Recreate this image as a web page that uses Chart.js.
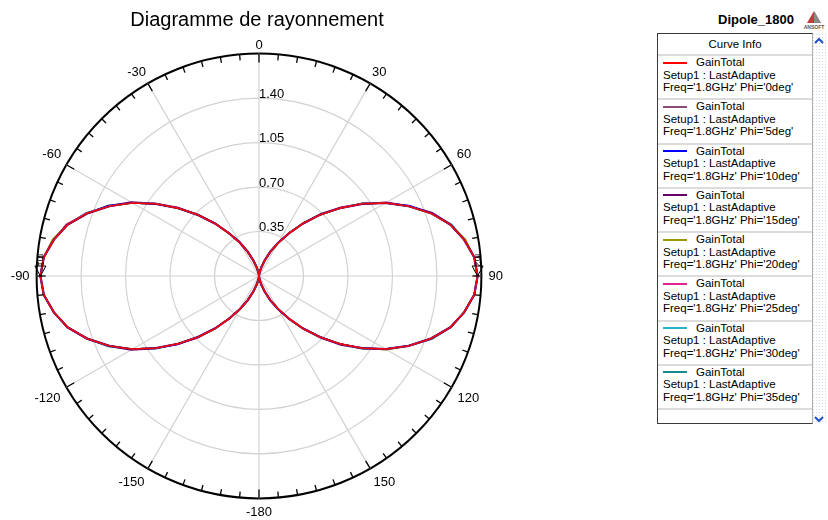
<!DOCTYPE html>
<html>
<head>
<meta charset="utf-8">
<script src="https://cdn.jsdelivr.net/npm/chart.js@4/dist/chart.umd.min.js"></script>
<style>
  html, body { margin: 0; padding: 0; background: #fff; overflow: hidden; width: 828px; height: 520px; }
  body { position: relative; font-family: 'Liberation Sans', Arial, sans-serif; color: #000; }
  #plotWrap { position: absolute; left: 0; top: 0; width: 514px; height: 524px; }
  #projTitle { position: absolute; left: 718px; top: 12px; font-weight: bold; font-size: 13px; line-height: 16px; white-space: nowrap; }
  #logo { position: absolute; left: 803px; top: 10px; width: 22px; height: 22px; }
  #info { position: absolute; left: 657px; top: 33px; width: 154px; height: 389px; border: 1px solid #3a3a3a; border-right-color: #b0b0b0; background: #fff; font-size: 11.5px; overflow: hidden; }
  #info .head { height: 20px; line-height: 20px; text-align: center; border-bottom: 2px solid #dcdcdc; }
  #info .entry { position: relative; height: 42.25px; border-bottom: 2px solid #dcdcdc; padding-left: 5px; line-height: 12.5px; white-space: nowrap; }
  #info .entry .sw { position: absolute; left: 5px; top: 5.5px; width: 24px; height: 2px; }
  #info .entry .gt { padding-left: 33px; }
  #scroll { position: absolute; left: 812px; top: 33px; width: 14px; height: 391px;
            background-image: radial-gradient(#cfd6e4 0.7px, transparent 0.9px); background-size: 3px 3px; }
  #scroll svg { position: absolute; left: 1px; }
</style>
</head>
<body>
<div id="plotWrap"><canvas id="pattern"></canvas></div>

<div id="projTitle">Dipole_1800</div>
<svg id="logo" viewBox="0 0 22 22">
  <polygon points="11,1 4,13 18,13" fill="#c43a3a"/>
  <polygon points="11,1 11,13 18,13" fill="#8a8a8a"/>
  <text x="11" y="19" font-size="5" font-family="Liberation Sans, Arial" font-weight="bold" text-anchor="middle" fill="#555">ANSOFT</text>
</svg>

<div id="info"><div class="head">Curve Info</div></div>
<div id="scroll">
  <svg width="12" height="10" style="top:3px"><polyline points="2,7 6,3 10,7" fill="none" stroke="#2250c8" stroke-width="2"/></svg>
  <svg width="12" height="10" style="top:381px"><polyline points="2,3 6,7 10,3" fill="none" stroke="#2250c8" stroke-width="2"/></svg>
</div>

<script>
// Observation angles (degrees, clockwise from the top of the plot), one spoke every 5 degrees
const angles = [0,5,10,15,20,25,30,35,40,45,50,55,60,65,70,75,80,85,
                90,95,100,105,110,115,120,125,130,135,140,145,150,155,160,165,170,175,
                180,185,190,195,200,205,210,215,220,225,230,235,240,245,250,255,260,265,
                270,275,280,285,290,295,300,305,310,315,320,325,330,335,340,345,350,355];

// Labels written on the rim every 30 degrees
const angleTickLabels = ['0','30','60','90','120','150','-180','-150','-120','-90','-60','-30'];

// Radial gain rings and their labels
const radialTicks = [0.35, 0.70, 1.05, 1.40];
const radialTickLabels = ['0.35', '0.70', '1.05', '1.40'];

// GainTotal for each Phi cut (Freq = 1.8 GHz)
const gainPhi0 = [
  0.00,0.01,0.03,0.07,0.13,0.21,0.30,0.41,0.54,0.68,0.83,0.99,1.15,1.30,1.44,1.56,1.64,1.70,
  1.72,1.70,1.64,1.56,1.44,1.30,1.15,0.99,0.83,0.68,0.54,0.41,0.30,0.21,0.13,0.07,0.03,0.01,
  0.00,0.01,0.03,0.07,0.13,0.21,0.30,0.41,0.54,0.68,0.83,0.99,1.15,1.30,1.44,1.56,1.64,1.70,
  1.72,1.70,1.64,1.56,1.44,1.30,1.15,0.99,0.83,0.68,0.54,0.41,0.30,0.21,0.13,0.07,0.03,0.01];
const gainPhi5 = [
  0.00,0.01,0.03,0.07,0.13,0.21,0.30,0.42,0.54,0.68,0.83,1.00,1.15,1.30,1.44,1.56,1.64,1.70,
  1.72,1.70,1.64,1.56,1.44,1.30,1.15,0.99,0.83,0.68,0.55,0.41,0.30,0.21,0.13,0.07,0.03,0.01,
  0.00,0.01,0.03,0.07,0.13,0.21,0.30,0.41,0.55,0.68,0.83,0.99,1.15,1.30,1.44,1.56,1.64,1.70,
  1.72,1.70,1.64,1.56,1.45,1.30,1.15,1.00,0.83,0.68,0.54,0.41,0.30,0.21,0.13,0.07,0.03,0.01];
const gainPhi10 = [
  0.00,0.01,0.03,0.07,0.13,0.21,0.31,0.41,0.54,0.68,0.83,0.99,1.15,1.31,1.44,1.56,1.64,1.70,
  1.72,1.70,1.64,1.56,1.44,1.30,1.15,0.99,0.83,0.68,0.54,0.41,0.31,0.21,0.13,0.07,0.03,0.01,
  0.00,0.01,0.03,0.07,0.13,0.21,0.30,0.41,0.54,0.68,0.84,0.99,1.15,1.30,1.44,1.56,1.64,1.70,
  1.72,1.70,1.64,1.56,1.44,1.31,1.15,0.99,0.83,0.68,0.55,0.41,0.30,0.21,0.13,0.07,0.03,0.01];
const gainPhi15 = [
  0.00,0.01,0.03,0.07,0.13,0.21,0.30,0.41,0.54,0.69,0.83,0.99,1.15,1.30,1.45,1.56,1.64,1.70,
  1.72,1.70,1.64,1.56,1.44,1.30,1.15,0.99,0.84,0.68,0.54,0.41,0.30,0.21,0.13,0.07,0.03,0.01,
  0.00,0.01,0.03,0.07,0.13,0.21,0.30,0.41,0.54,0.68,0.83,0.99,1.16,1.30,1.44,1.56,1.64,1.70,
  1.72,1.70,1.64,1.56,1.44,1.30,1.16,0.99,0.83,0.68,0.54,0.41,0.31,0.21,0.13,0.07,0.03,0.01];
const gainPhi20 = [
  0.00,0.01,0.03,0.07,0.13,0.21,0.30,0.41,0.55,0.68,0.83,0.99,1.15,1.30,1.44,1.56,1.65,1.70,
  1.72,1.70,1.64,1.56,1.44,1.30,1.16,0.99,0.83,0.68,0.54,0.41,0.30,0.21,0.13,0.07,0.03,0.01,
  0.00,0.01,0.03,0.07,0.13,0.21,0.31,0.41,0.54,0.68,0.83,0.99,1.15,1.30,1.44,1.56,1.64,1.70,
  1.72,1.70,1.65,1.56,1.44,1.30,1.15,0.99,0.83,0.69,0.54,0.41,0.30,0.21,0.13,0.07,0.03,0.01];
const gainPhi25 = [
  0.00,0.01,0.03,0.07,0.13,0.21,0.30,0.41,0.54,0.68,0.84,0.99,1.16,1.30,1.44,1.56,1.64,1.70,
  1.72,1.70,1.64,1.56,1.44,1.30,1.15,0.99,0.83,0.69,0.54,0.41,0.30,0.21,0.13,0.07,0.03,0.01,
  0.00,0.01,0.03,0.07,0.13,0.21,0.30,0.41,0.54,0.69,0.83,0.99,1.15,1.30,1.44,1.56,1.64,1.70,
  1.72,1.70,1.64,1.57,1.44,1.30,1.15,0.99,0.84,0.68,0.54,0.41,0.30,0.21,0.13,0.07,0.03,0.01];
const gainPhi30 = [
  0.00,0.01,0.03,0.07,0.13,0.21,0.30,0.42,0.54,0.68,0.83,0.99,1.15,1.30,1.44,1.57,1.64,1.70,
  1.72,1.70,1.64,1.56,1.44,1.30,1.15,0.99,0.83,0.68,0.54,0.42,0.30,0.21,0.13,0.07,0.03,0.01,
  0.00,0.01,0.03,0.07,0.13,0.21,0.30,0.41,0.54,0.68,0.83,1.00,1.15,1.30,1.44,1.56,1.64,1.70,
  1.72,1.70,1.64,1.56,1.45,1.30,1.15,0.99,0.83,0.68,0.54,0.42,0.30,0.21,0.13,0.07,0.03,0.01];
const gainPhi35 = [
  0.00,0.01,0.03,0.07,0.13,0.21,0.30,0.41,0.54,0.68,0.83,1.00,1.15,1.30,1.44,1.56,1.64,1.70,
  1.72,1.70,1.64,1.56,1.45,1.30,1.15,1.00,0.83,0.68,0.54,0.41,0.30,0.21,0.13,0.07,0.03,0.01,
  0.00,0.01,0.03,0.07,0.13,0.21,0.30,0.41,0.54,0.68,0.83,0.99,1.15,1.31,1.44,1.56,1.64,1.70,
  1.72,1.70,1.64,1.56,1.44,1.31,1.15,0.99,0.83,0.68,0.54,0.41,0.30,0.22,0.13,0.07,0.03,0.01];

const phiCuts   = ['0deg', '5deg', '10deg', '15deg', '20deg', '25deg', '30deg', '35deg'];
const curveColors = ['#ff0000', '#8c4a74', '#0000ff', '#660066', '#9a9a00', '#e0288c', '#22b4c8', '#148c8c'];
const curveWidths = [1.4, 1.2, 1.2, 2.3, 1.6, 1.6, 1.6, 1.6];
const curveData = [gainPhi0, gainPhi5, gainPhi10, gainPhi15, gainPhi20, gainPhi25, gainPhi30, gainPhi35];

// Markers placed on the curve
const markerNames  = ['m1', 'm2'];
const markerAngles = [270, 90];
const markerValues = [1.72, 1.72];

// ---- Curve Info panel ----
const info = document.getElementById('info');
phiCuts.forEach((phi, k) => {
  const e = document.createElement('div');
  e.className = 'entry';
  e.innerHTML = '<div class="sw" style="background:' + curveColors[k] + '"></div>' +
    '<div class="gt">GainTotal</div>' +
    '<div>Setup1 : LastAdaptive</div>' +
    "<div>Freq='1.8GHz' Phi='" + phi + "'</div>";
  info.appendChild(e);
});

// ---- Rim ticks, ring labels and markers ----
const polarDecor = {
  id: 'polarDecor',
  afterDraw(chart) {
    const s = chart.scales.r;
    const ctx = chart.ctx;
    const R = s.drawingArea;
    ctx.save();
    ctx.strokeStyle = '#000';
    ctx.lineWidth = 1.3;
    for (let i = 0; i < angles.length; i++) {
      const len = angles[i] % 30 === 0 ? 9 : 6;
      const a = s.getPointPosition(i, R);
      const b = s.getPointPosition(i, R - len);
      ctx.beginPath();
      ctx.moveTo(a.x, a.y);
      ctx.lineTo(b.x, b.y);
      ctx.stroke();
    }

    ctx.fillStyle = '#000';
    ctx.font = "13px 'Liberation Sans', Arial, sans-serif";
    ctx.textAlign = 'left';
    ctx.textBaseline = 'middle';
    radialTicks.forEach((v, k) => {
      const d = s.getDistanceFromCenterForValue(v);
      ctx.fillText(radialTickLabels[k], s.xCenter, s.yCenter - d - 4);
    });

    ctx.lineWidth = 1;
    markerNames.forEach((name, k) => {
      const idx = angles.indexOf(markerAngles[k]);
      const p = s.getPointPositionForValue(idx, markerValues[k]);
      ctx.beginPath();
      ctx.moveTo(p.x, p.y);
      ctx.lineTo(p.x - 5.5, p.y - 10);
      ctx.lineTo(p.x + 5.5, p.y - 10);
      ctx.closePath();
      ctx.stroke();
      ctx.save();
      ctx.translate(p.x, p.y - 16);
      ctx.rotate(Math.PI / 2);
      ctx.font = "9px 'Liberation Sans', Arial, sans-serif";
      ctx.textAlign = 'center';
      ctx.fillText(name, 0, 0);
      ctx.restore();
    });
    ctx.restore();
  }
};

Chart.defaults.font.family = "'Liberation Sans', Arial, sans-serif";
Chart.defaults.color = '#000';

new Chart(document.getElementById('pattern'), {
  type: 'radar',
  data: {
    labels: angles,
    datasets: curveData.map((d, k) => ({
      label: "GainTotal Phi='" + phiCuts[k] + "'",
      data: d,
      borderColor: curveColors[k],
      backgroundColor: curveColors[k],
      borderWidth: curveWidths[k],
      pointRadius: 0,
      pointHoverRadius: 0,
      fill: false,
      tension: 0
    }))
  },
  options: {
    responsive: true,
    maintainAspectRatio: false,
    animation: false,
    events: [],
    layout: { padding: 0 },
    plugins: {
      legend: { display: false },
      tooltip: { enabled: false },
      title: {
        display: true,
        text: 'Diagramme de rayonnement',
        color: '#000',
        font: { size: 20, weight: 'normal' },
        padding: { top: 8.5, bottom: 3.5 }
      }
    },
    scales: {
      r: {
        min: 0,
        max: 1.75,
        startAngle: 0,
        ticks: { stepSize: 0.35, display: false },
        grid: {
          circular: true,
          color: c => (c.tick && c.tick.value > 1.7) ? '#000' : '#d2d2d2',
          lineWidth: c => (c.tick && c.tick.value > 1.7) ? 2 : 1.2
        },
        angleLines: {
          color: '#d2d2d2',
          lineWidth: c => (c.index % 6 === 0) ? 1.2 : 0
        },
        pointLabels: {
          color: '#000',
          font: { size: 13 },
          padding: c => {
            const a = angles[c.index];
            const s = Math.abs(Math.sin(a * Math.PI / 180));
            return (a > 90 && a < 270) ? 6 + s : 7 * s;
          },
          callback: (label, index) => (index % 6 === 0) ? angleTickLabels[index / 6] : ''
        }
      }
    }
  },
  plugins: [polarDecor]
});
</script>
</body>
</html>
